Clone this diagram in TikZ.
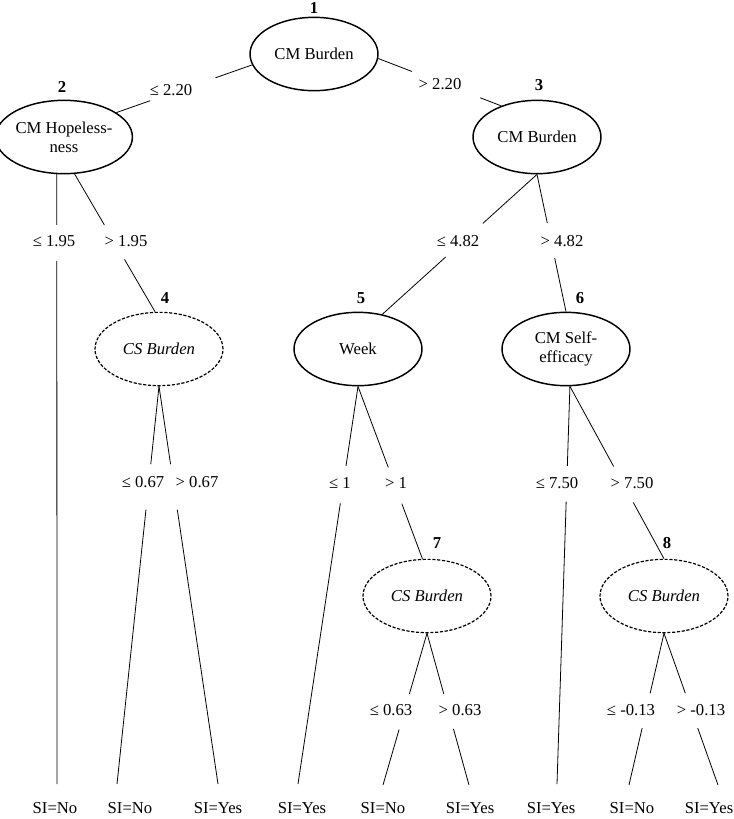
\documentclass[tikz,border=0pt]{standalone}
\usepackage{fontspec}
\setmainfont{Liberation Serif}
\usetikzlibrary{shapes.geometric}

% broken branch: line from #1 to #2 with a gap between pos #3 and pos #4
\newcommand{\branch}[4]{%
    \path (#1) -- (#2) coordinate[pos=#3] (ga) coordinate[pos=#4] (gb);
    \draw[branchline] (#1) -- (ga) (gb) -- (#2);}

\begin{document}
\begin{tikzpicture}[x=0.75pt, y=-0.75pt,
    splitnode/.style={ellipse, draw, line width=1.1pt, minimum width=96pt, minimum height=55pt,
        inner sep=0pt, align=center, font=\fontsize{12.5}{14.5}\selectfont},
    surrnode/.style={splitnode, line width=0.9pt, dash pattern=on 2.4pt off 1.2pt,
        font=\fontsize{12.5}{14.5}\selectfont\itshape},
    numlabel/.style={font=\fontsize{12.5}{14.5}\selectfont\bfseries, inner sep=0pt},
    cutlabel/.style={font=\fontsize{12.5}{14.5}\selectfont, inner sep=0pt},
    leafnode/.style={font=\fontsize{12.5}{14.5}\selectfont, inner sep=0pt},
    branchline/.style={line width=0.6pt}]
    \useasboundingbox (0,0) rectangle (734,819);

    % Splits
    \node[splitnode] (n1) at (314,54) {CM Burden};
    \node[splitnode] (n2) at (64,137) {CM Hopeless-\\ness};
    \node[splitnode] (n3) at (537,137) {CM Burden};
    \node[surrnode] (n4) at (159,349) {CS Burden};
    \node[splitnode] (n5) at (358,349) {Week};
    \node[splitnode] (n6) at (566,349) {CM Self-\\efficacy};
    \node[surrnode] (n7) at (427,596) {CS Burden};
    \node[surrnode] (n8) at (664,596) {CS Burden};

    % Split numbers
    \node[numlabel] (k1) at (314,8) {1};
    \node[numlabel] (k2) at (62,87) {2};
    \node[numlabel] (k3) at (539,85) {3};
    \node[numlabel] (k4) at (165,298) {4};
    \node[numlabel] (k5) at (361,298) {5};
    \node[numlabel] (k6) at (580,298) {6};
    \node[numlabel] (k7) at (437,543) {7};
    \node[numlabel] (k8) at (667,543) {8};

    % Leaves
    \node[leafnode] (l1) at (55,808) {SI=No};
    \node[leafnode] (l2) at (130,808) {SI=No};
    \node[leafnode] (l3) at (218,808) {SI=Yes};
    \node[leafnode] (l4) at (302,808) {SI=Yes};
    \node[leafnode] (l5) at (383,808) {SI=No};
    \node[leafnode] (l6) at (470,808) {SI=Yes};
    \node[leafnode] (l7) at (551,808) {SI=Yes};
    \node[leafnode] (l8) at (632,808) {SI=No};
    \node[leafnode] (l9) at (709,808) {SI=Yes};
    \coordinate (e1) at (57,784);
    \coordinate (e2) at (117,784);
    \coordinate (e3) at (218,784);
    \coordinate (e4) at (298,784);
    \coordinate (e5) at (383,785);
    \coordinate (e6) at (469,785);
    \coordinate (e7) at (557,784);
    \coordinate (e8) at (629,785);
    \coordinate (e9) at (718,785);

    % Branches
    \branch{n1.190}{n2.25}{.27}{.75}
    \branch{n1.356}{n3.139}{.274}{.83}
    \branch{n2.259}{e1}{.083}{.142}
    \branch{n2.286}{n4.96}{.37}{.62}
    \branch{n3.south}{n5.55}{.35}{.59}
    \branch{n3.south}{n6.north}{.355}{.61}
    \branch{n4.south}{e2}{.196}{.31}
    \branch{n4.south}{e3}{.196}{.31}
    \branch{n5.south}{e4}{.2}{.294}
    \branch{n5.south}{n7.97}{.47}{.68}
    \branch{n6.276}{e7}{.2}{.29}
    \branch{n6.276}{n8.north}{.465}{.674}
    \branch{n7.south}{e5}{.4}{.634}
    \branch{n7.south}{e6}{.4}{.63}
    \branch{n8.south}{e8}{.395}{.625}
    \branch{n8.south}{e9}{.395}{.625}

    % Cut points
    \node[cutlabel] (c1) at (171,90) {≤ 2.20};
    \node[cutlabel] (c2) at (440,84) {> 2.20};
    \node[cutlabel] (c3) at (54,241) {≤ 1.95};
    \node[cutlabel] (c4) at (126,241) {> 1.95};
    \node[cutlabel] (c5) at (458,241) {≤ 4.82};
    \node[cutlabel] (c6) at (562,241) {> 4.82};
    \node[cutlabel] (c7) at (143,482) {≤ 0.67};
    \node[cutlabel] (c8) at (197,482) {> 0.67};
    \node[cutlabel] (c9) at (340,483) {≤ 1};
    \node[cutlabel] (c10) at (396,483) {> 1};
    \node[cutlabel] (c11) at (557,483) {≤ 7.50};
    \node[cutlabel] (c12) at (632,483) {> 7.50};
    \node[cutlabel] (c13) at (391,710) {≤ 0.63};
    \node[cutlabel] (c14) at (460,710) {> 0.63};
    \node[cutlabel] (c15) at (631,710) {≤ -0.13};
    \node[cutlabel] (c16) at (701,710) {> -0.13};
\end{tikzpicture}
\end{document}
